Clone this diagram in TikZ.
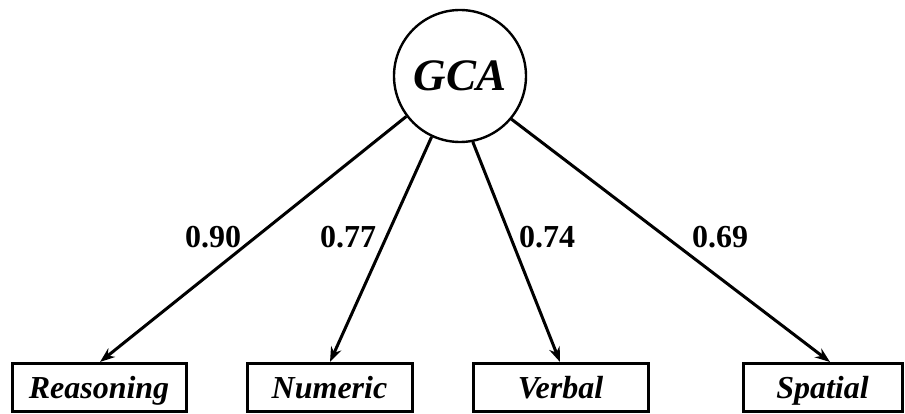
\documentclass[tikz,border=0pt]{standalone}
\usepackage{fontspec}
\setmainfont{Liberation Serif}
\usetikzlibrary{arrows.meta}
\begin{document}
\begin{tikzpicture}[x=1pt,y=1pt,
  latent/.style={circle,draw,line width=2.4pt,minimum size=132pt,inner sep=0pt,
    font=\fontsize{45}{48}\selectfont\bfseries\itshape},
  obs/.style={draw,line width=3pt,minimum height=48pt,inner sep=0pt,
    text height=24pt,text depth=3pt,
    font=\fontsize{32}{34}\selectfont\bfseries\itshape},
  load/.style={-{Stealth[length=15pt,width=11pt]},line width=3pt},
  lbl/.style={font=\fontsize{32}{36}\selectfont\bfseries,inner sep=0pt}]
\useasboundingbox (0,0) rectangle (905,-414);
\node[latent] (g) at (460,-76) {GCA};
\node[obs,minimum width=174pt] (r) at (99,-387.5) {Reasoning};
\node[obs,minimum width=165pt] (n) at (329.5,-387.5) {Numeric};
\node[obs,minimum width=175pt] (v) at (560.5,-387.5) {Verbal};
\node[obs,minimum width=159pt] (s) at (822.5,-387.5) {Spatial};
\coordinate (rt) at (100,-362);
\coordinate (nt) at (330,-362);
\coordinate (vt) at (560,-362);
\coordinate (st) at (830,-362);
\draw[load] (g.217) -- (rt);
\draw[load] (g.245) -- (nt);
\draw[load] (g.281) -- (vt);
\draw[load] (g.320) -- (st);
\node[lbl] (l1) at (213,-237) {0.90};
\node[lbl] (l2) at (348,-237) {0.77};
\node[lbl] (l3) at (547,-237) {0.74};
\node[lbl] (l4) at (720,-237) {0.69};
\end{tikzpicture}
\end{document}
